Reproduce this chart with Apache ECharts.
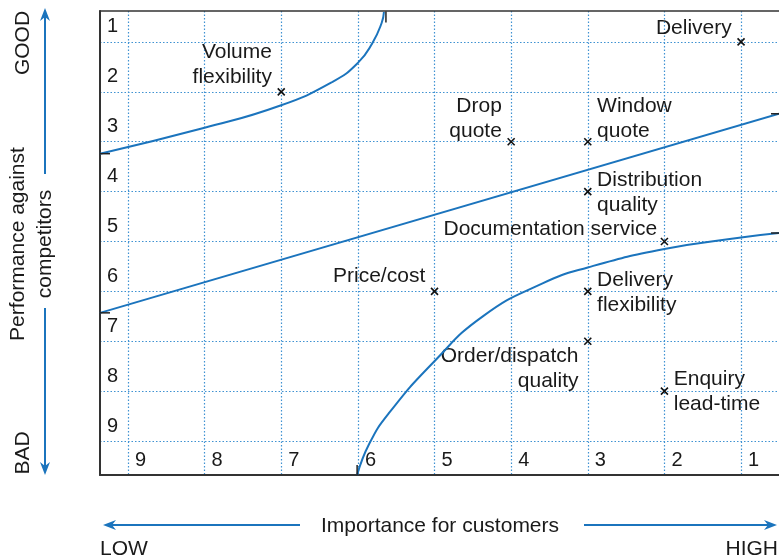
<!DOCTYPE html>
<html>
<head>
<meta charset="utf-8">
<script src="https://cdn.jsdelivr.net/npm/echarts@6/dist/echarts.min.js"></script>
<style>
  html, body { margin: 0; padding: 0; background: #fff; }
  #chart { width: 779px; height: 559px; }
</style>
</head>
<body>
<div id="chart"></div>
<script>
// factors: importance for customers (9 low .. 1 high), performance (1 good .. 9 bad)
var factorNames = ['Delivery', 'Volume\nflexibility', 'Drop\nquote', 'Window\nquote',
    'Distribution\nquality', 'Documentation service', 'Price/cost',
    'Delivery\nflexibility', 'Order/dispatch\nquality', 'Enquiry\nlead-time'];
var importance = [1, 7, 4, 3, 3, 2, 5, 3, 3, 2];
var performance = [1, 2, 3, 3, 4, 5, 6, 6, 7, 8];

// boundary curves [importance, performance]
var upperCurve = [[9.365, 3.24], [8.0, 2.72], [7.02, 2.28], [6.33, 1.8], [6.0, 1.42],
    [5.81, 1.02], [5.69, 0.62], [5.66, 0.40]];
var middleLine = [[9.365, 6.43], [0.505, 2.44]];
var lowerCurve = [[6.01, 9.68], [5.85, 9.05], [5.6, 8.45], [5.02, 7.43],
    [4.37, 6.5], [3.59, 5.84], [3.0, 5.52], [2.0, 5.15], [1.0, 4.92], [0.505, 4.83]];

// where each label sits next to its cross
var labelPlace = {
    'Delivery': ['left', [0, -14]],
    'Volume\nflexibility': ['left', [0, -27]],
    'Drop\nquote': ['left', [0, -23]],
    'Window\nquote': ['right', [0, -23]],
    'Distribution\nquality': ['right', [0, 1]],
    'Documentation service': ['left', [2, -12]],
    'Price/cost': ['left', [0, -15]],
    'Delivery\nflexibility': ['right', [0, 1]],
    'Order/dispatch\nquality': ['left', [0, 27]],
    'Enquiry\nlead-time': ['right', [0, 1]]
};

var FONT = '"Liberation Sans", Arial, Helvetica, sans-serif';
var BLUE = '#1b74bd';
var GRID_BLUE = '#3f92d2';
var TXT = '#1a1a1a';

var points = factorNames.map(function (n, i) {
    var p = labelPlace[n];
    return {
        name: n,
        value: [importance[i], performance[i]],
        label: { position: p[0], offset: p[1], align: p[0] === 'left' ? 'right' : 'left' }
    };
});

function arrow(x1, y1, x2, y2) {
    // shaft from (x1,y1) to the tip (x2,y2)
    var dx = x2 - x1, dy = y2 - y1, len = Math.sqrt(dx * dx + dy * dy);
    var ux = dx / len, uy = dy / len, px = -uy, py = ux;
    var bx = x2 - ux * 13, by = y2 - uy * 13;
    var nx = x2 - ux * 9, ny = y2 - uy * 9;
    return [
        { type: 'line', shape: { x1: x1, y1: y1, x2: nx, y2: ny }, style: { stroke: BLUE, lineWidth: 2 } },
        { type: 'polygon', shape: { points: [[x2, y2], [bx + px * 5, by + py * 5], [nx, ny], [bx - px * 5, by - py * 5]] },
          style: { fill: BLUE } }
    ];
}

function endTicks(data, first, last) {
    return {
        symbol: 'rect', silent: true,
        itemStyle: { color: '#222' },
        label: { show: false },
        data: [
            { coord: data[0], symbolSize: first.size, symbolOffset: first.off },
            { coord: data[data.length - 1], symbolSize: last.size, symbolOffset: last.off }
        ]
    };
}

var chart = echarts.init(document.getElementById('chart'));

var axisCommon = {
    type: 'value',
    inverse: true,
    splitNumber: 9,
    axisTick: { show: false },
    splitLine: { show: true, showMinLine: false, showMaxLine: false,
        lineStyle: { color: GRID_BLUE, width: 1.2, type: [1.5, 2] } },
    axisLine: { show: true, onZero: false, lineStyle: { color: '#333', width: 2 } },
    axisLabel: { inside: true, color: TXT, fontSize: 20, fontFamily: FONT,
        showMinLabel: false, showMaxLabel: false }
};

var option = {
    animation: false,
    backgroundColor: '#fff',
    grid: { left: 100, top: 11, width: 679, height: 464 },
    xAxis: [
        Object.assign({}, axisCommon, {
            position: 'bottom', min: 0.505, max: 9.365,
            axisLabel: Object.assign({}, axisCommon.axisLabel, { align: 'left', padding: [0, 0, 0, 7], margin: 5 })
        }),
        { type: 'value', position: 'top', inverse: true, min: 0.505, max: 9.365,
          axisLine: { show: true, onZero: false, lineStyle: { color: '#333', width: 1.5 } },
          axisTick: { show: false }, axisLabel: { show: false }, splitLine: { show: false } }
    ],
    yAxis: Object.assign({}, axisCommon, {
        position: 'left', min: 0.38, max: 9.68,
        axisLabel: Object.assign({}, axisCommon.axisLabel, { align: 'left', verticalAlign: 'bottom',
            padding: [0, 0, 5, 0], margin: 7 })
    }),
    series: [
        {
            type: 'line', data: upperCurve, smooth: 0.5, showSymbol: false,
            lineStyle: { color: BLUE, width: 2 }, silent: true,
            markPoint: endTicks(upperCurve, { size: [10, 1.5], off: [5, 0] }, { size: [1.5, 11], off: [2, 5] })
        },
        {
            type: 'line', data: middleLine, showSymbol: false,
            lineStyle: { color: BLUE, width: 2 }, silent: true,
            markPoint: endTicks(middleLine, { size: [10, 1.5], off: [5, 0] }, { size: [8, 1.5], off: [-4, 0] })
        },
        {
            type: 'line', data: lowerCurve, smooth: 0.5, showSymbol: false,
            lineStyle: { color: BLUE, width: 2 }, silent: true,
            markPoint: endTicks(lowerCurve, { size: [1.5, 10], off: [0, -5] }, { size: [8, 1.5], off: [-4, 0] })
        },
        {
            type: 'scatter', data: points,
            symbol: 'path://M0,0L10,10M10,0L0,10', symbolSize: 7,
            itemStyle: { color: 'rgba(0,0,0,0)', borderColor: '#111', borderWidth: 1.6, opacity: 1 },
            label: { show: true, formatter: '{b}', color: TXT, fontSize: 21, lineHeight: 25,
                fontFamily: FONT, distance: 5 },
            emphasis: { disabled: true }
        }
    ],
    graphic: [].concat(
        arrow(45, 174, 45, 8),
        arrow(45, 308, 45, 475),
        arrow(300, 525, 103, 525),
        arrow(584, 525, 777, 525),
        [
            { type: 'text', x: 23, y: 43, rotation: Math.PI / 2,
              style: { text: 'GOOD', fill: TXT, font: '21px ' + FONT, align: 'center', verticalAlign: 'middle' } },
            { type: 'text', x: 32, y: 244, rotation: Math.PI / 2,
              style: { text: 'Performance against\ncompetitors', fill: TXT, font: '21px ' + FONT,
                       lineHeight: 27, align: 'center', verticalAlign: 'middle' } },
            { type: 'text', x: 23, y: 453, rotation: Math.PI / 2,
              style: { text: 'BAD', fill: TXT, font: '21px ' + FONT, align: 'center', verticalAlign: 'middle' } },
            { type: 'text', x: 440, y: 526,
              style: { text: 'Importance for customers', fill: TXT, font: '21px ' + FONT, align: 'center', verticalAlign: 'middle' } },
            { type: 'text', x: 100, y: 549,
              style: { text: 'LOW', fill: TXT, font: '21px ' + FONT, align: 'left', verticalAlign: 'middle' } },
            { type: 'text', x: 778, y: 549,
              style: { text: 'HIGH', fill: TXT, font: '21px ' + FONT, align: 'right', verticalAlign: 'middle' } }
        ]
    )
};

chart.setOption(option);
</script>
</body>
</html>
